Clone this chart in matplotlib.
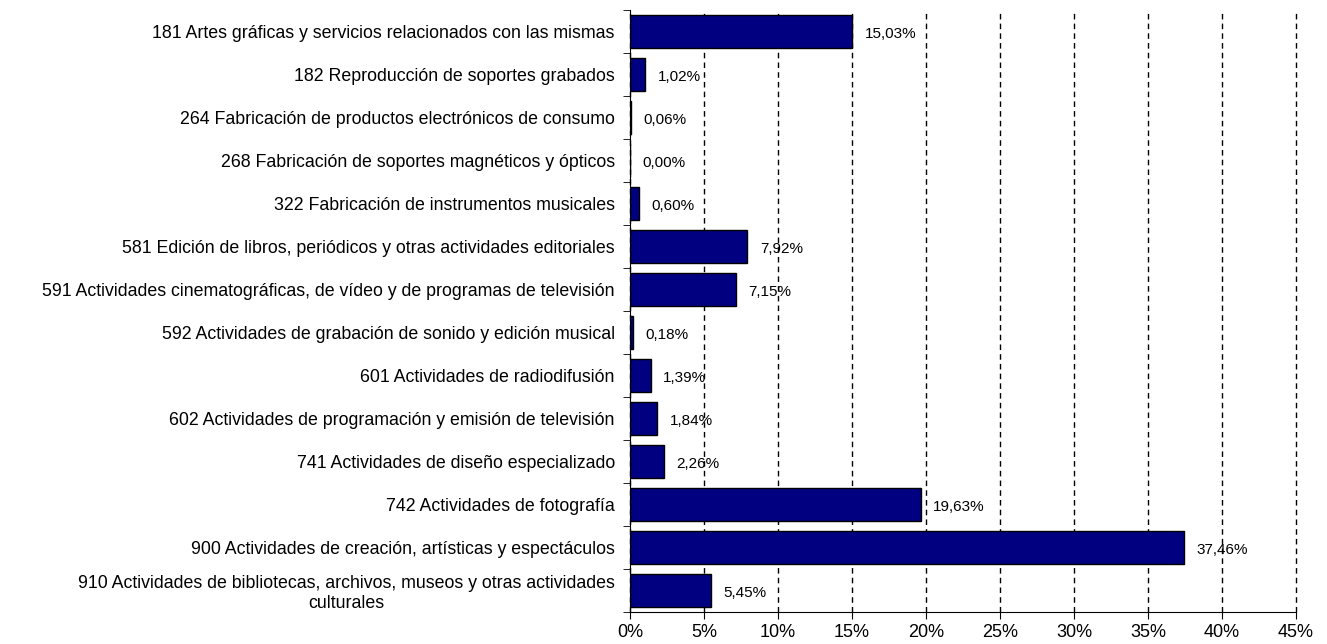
import matplotlib.pyplot as plt
from matplotlib.ticker import FuncFormatter

plt.rcParams['font.family'] = ['Liberation Sans', 'DejaVu Sans']

categories = [
    "181 Artes gráficas y servicios relacionados con las mismas",
    "182 Reproducción de soportes grabados",
    "264 Fabricación de productos electrónicos de consumo",
    "268 Fabricación de soportes magnéticos y ópticos",
    "322 Fabricación de instrumentos musicales",
    "581 Edición de libros, periódicos y otras actividades editoriales",
    "591 Actividades cinematográficas, de vídeo y de programas de televisión",
    "592 Actividades de grabación de sonido y edición musical",
    "601 Actividades de radiodifusión",
    "602 Actividades de programación y emisión de televisión",
    "741 Actividades de diseño especializado",
    "742 Actividades de fotografía",
    "900 Actividades de creación, artísticas y espectáculos",
    "910 Actividades de bibliotecas, archivos, museos y otras actividades\nculturales",
]
values = [15.03, 1.02, 0.06, 0.00, 0.60, 7.92, 7.15, 0.18, 1.39, 1.84, 2.26, 19.63, 37.46, 5.45]
x_ticks = [0, 5, 10, 15, 20, 25, 30, 35, 40, 45]

fig = plt.figure(figsize=(13.27, 6.44), dpi=100)
ax = fig.add_axes([0.4748, 0.0497, 0.5018, 0.9348])

ypos = list(range(len(categories)))
ax.barh(ypos, values, height=0.78, color='#000080', edgecolor='black', linewidth=1, zorder=3)

for y, v in zip(ypos, values):
    ax.annotate(f"{v:.2f}%".replace('.', ','), (v, y), xytext=(9, -2),
                textcoords='offset points', ha='left', va='center', fontsize=11, zorder=4)

ax.set_xlim(0, 45)
ax.set_ylim(len(categories) - 0.5, -0.5)
ax.set_xticks(x_ticks)
ax.xaxis.set_major_formatter(FuncFormatter(lambda x, p: f"{x:.0f}%"))
ax.tick_params(axis='x', labelsize=13, length=5, direction='out', pad=4)

ax.set_yticks(ypos)
ax.set_yticklabels(categories, fontsize=12.8)
for lbl in ax.get_yticklabels():
    lbl.set_multialignment('center')
ax.tick_params(axis='y', length=0, pad=11)
ax.set_yticks([y + 0.5 for y in [-1] + ypos], minor=True)
ax.tick_params(axis='y', which='minor', length=5, direction='out')

ax.grid(axis='x', color='black', linestyle=(0, (4, 3)), linewidth=1, zorder=1)
for gl in ax.get_xgridlines():
    gl.set_clip_on(False)
ax.spines['top'].set_visible(False)
ax.spines['right'].set_visible(False)
ax.spines['left'].set_zorder(5)

fig.savefig('out.png', dpi=100)
